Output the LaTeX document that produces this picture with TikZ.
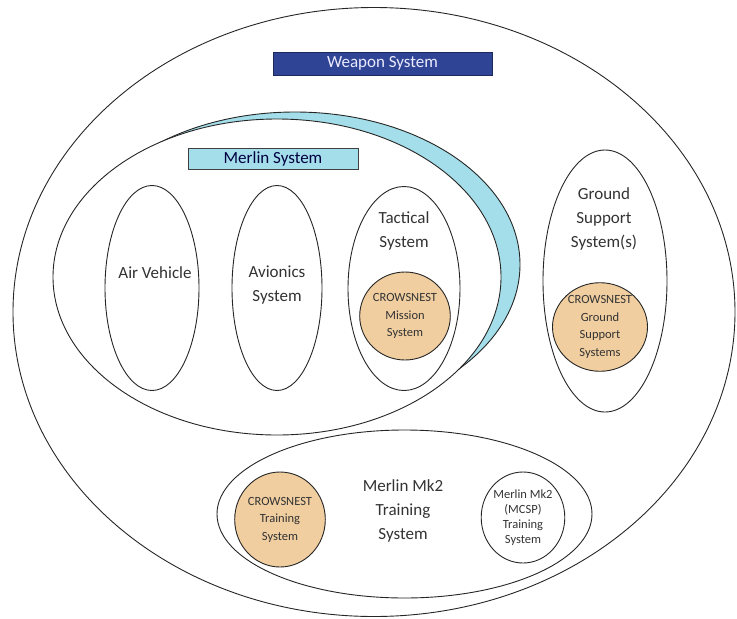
\documentclass[tikz,border=0pt]{standalone}
\usepackage{fontspec}
\setmainfont{Carlito}
\usepackage{xcolor}
\usetikzlibrary{shapes.geometric}
\definecolor{weaponblue}{RGB}{48,68,150}
\definecolor{merlincyan}{RGB}{163,222,234}
\definecolor{crowstan}{RGB}{240,206,160}

\begin{document}
\begin{tikzpicture}[x=1pt,y=1pt,yscale=-1,xscale=1,
    sysoval/.style={draw=black!85, ellipse, inner sep=0pt, line width=0.9pt},
    crowsoval/.style={sysoval, fill=crowstan, text=black!80},
    bigtext/.style={font=\fontsize{17}{24}\selectfont, align=center, inner sep=0.75pt, text=black!80},
    crowstext/.style={font=\fontsize{12.5}{17.5}\selectfont, align=center},
    mcsptext/.style={font=\fontsize{12.5}{15}\selectfont, align=center}]
    \useasboundingbox (0,0) rectangle (737,619);

    %Shape: Ellipse [weapon system]
    \node [sysoval, minimum width=722, minimum height=609] (weapon) at (374,312) {};
    %Shape: Ellipse [merlin rim, blue crescent]
    \node [sysoval, fill=merlincyan, minimum width=450, minimum height=305] (merlinrim) at (295,264.5) {};
    %Shape: Ellipse [merlin system]
    \node [sysoval, fill=white, minimum width=448, minimum height=316] (merlin) at (277,277) {};
    %Shape: Ellipse [air vehicle]
    \node [sysoval, minimum width=94, minimum height=205] (airvehicle) at (152,288) {};
    %Shape: Ellipse [avionics]
    \node [sysoval, minimum width=90, minimum height=205] (avionics) at (277,288) {};
    %Shape: Ellipse [tactical]
    \node [sysoval, minimum width=112, minimum height=204] (tactical) at (404,288.5) {};
    %Shape: Circle [crowsnest mission]
    \node [crowsoval, minimum width=85, minimum height=88, crowstext] (crowsmission) at (405,316) {CROWSNEST\\Mission\\System};
    %Shape: Ellipse [ground support]
    \node [sysoval, minimum width=124, minimum height=262] (ground) at (605,281) {};
    %Shape: Circle [crowsnest ground]
    \node [crowsoval, minimum width=95, minimum height=85, crowstext] (crowsground) at (600,327) {CROWSNEST\\Ground\\Support\\Systems};
    %Shape: Ellipse [training]
    \node [sysoval, minimum width=375, minimum height=168] (training) at (404.5,514) {};
    %Shape: Circle [crowsnest training]
    \node [crowsoval, minimum width=84, minimum height=95, crowstext] (crowstraining) at (280,519.5) {CROWSNEST\\Training\\System};
    %Shape: Circle [mcsp training]
    \node [sysoval, minimum width=80, minimum height=91, mcsptext, text=black!80] (mcsp) at (523,517.5) {Merlin Mk2\\(MCSP)\\Training\\System};

    %Shape: Rectangle [weapon system title]
    \node [draw=weaponblue!60!black, fill=weaponblue, line width=0.9pt, minimum width=219, minimum height=23, bigtext, text=white!92!blue] (weaponbox) at (382.5,63.5) {Weapon System};
    %Shape: Rectangle [merlin system title]
    \node [draw=black!75, fill=merlincyan, line width=0.9pt, minimum width=170, minimum height=21, bigtext, text=black!75!blue] (merlinbox) at (273,158.5) {Merlin System};

    % Text Node
    \node [bigtext] (airvehiclelbl) at (155,273) {Air Vehicle};
    % Text Node
    \node [bigtext] (avionicslbl) at (277,285.5) {Avionics\\System};
    % Text Node
    \node [bigtext] (tacticallbl) at (404,230.5) {Tactical\\System};
    % Text Node
    \node [bigtext] (groundlbl) at (604,219) {Ground\\Support\\System(s)};
    % Text Node
    \node [bigtext] (traininglbl) at (403,511) {Merlin Mk2\\Training\\System};
\end{tikzpicture}
\end{document}
